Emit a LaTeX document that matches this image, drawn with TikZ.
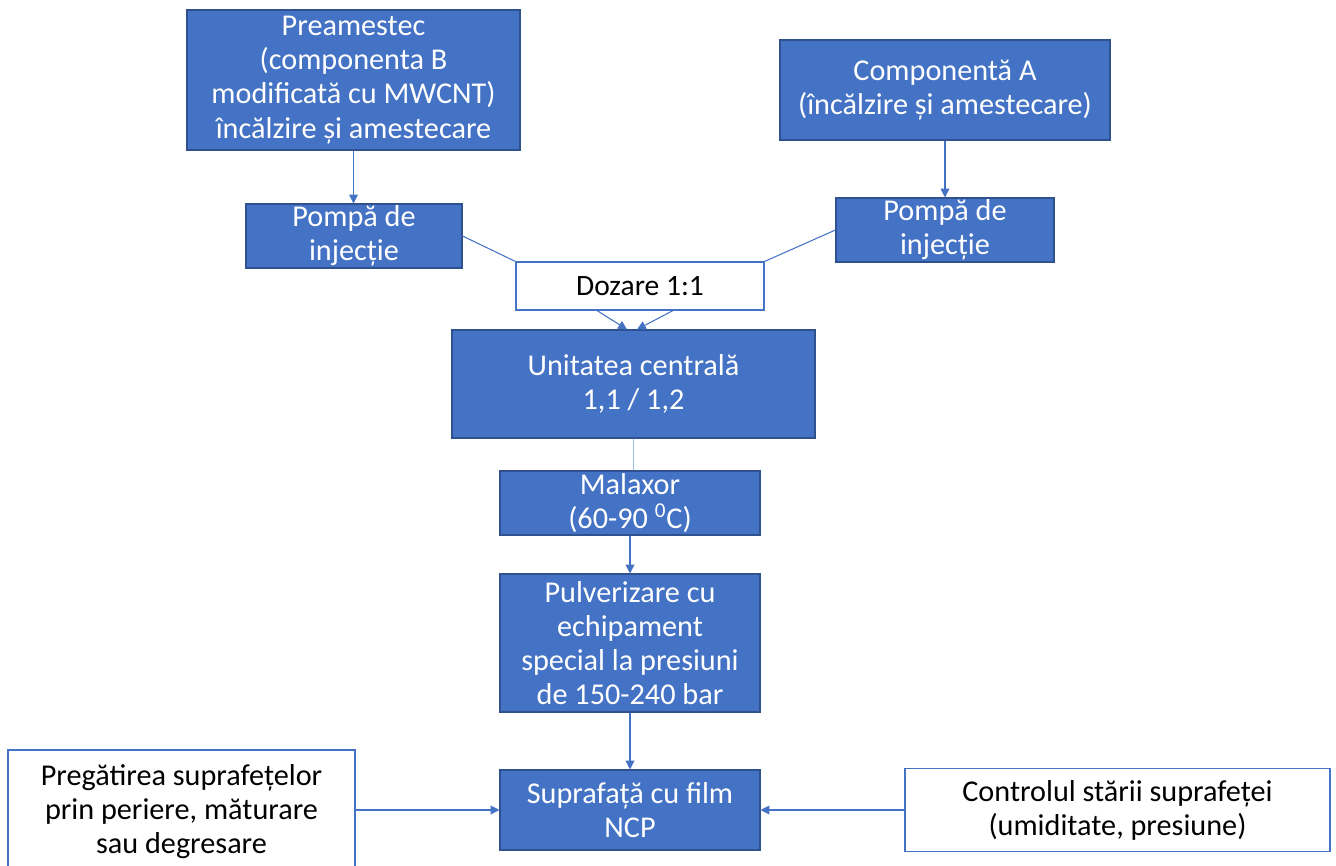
\documentclass[tikz,border=0pt]{standalone}
\usepackage{fontspec}
\setmainfont{Carlito}
\usetikzlibrary{arrows.meta}
\definecolor{boxblue}{HTML}{4472C4}
\definecolor{edgeblue}{HTML}{2F528F}
\definecolor{paleblue}{HTML}{9DC3E6}

\begin{document}
\begin{tikzpicture}[
    bluebox/.style={draw=edgeblue, fill=boxblue, text=white, line width=0.6pt, align=center,
      inner sep=0pt, font=\fontsize{17.2}{19.4}\selectfont},
    whitebox/.style={draw=boxblue, fill=white, text=black, line width=0.6pt, align=center,
      inner sep=0pt, font=\fontsize{17.2}{19.4}\selectfont},
    link/.style={draw=boxblue, line width=0.6pt},
    arr/.style={link, -{Triangle[width=5pt,length=5pt]}}
  ]
        \useasboundingbox (0,0) rectangle (26.72,-17.32);
        % upper row
        \node[bluebox, minimum width=6.66cm, minimum height=2.8cm] (pre) at (7.07,-1.6)
          {Preamestec\\(componenta B\\modificată cu MWCNT)\\încălzire și amestecare};
        \node[bluebox, minimum width=6.6cm, minimum height=2cm] (compA) at (18.9,-1.8)
          {Componentă A\\(încălzire și amestecare)};
        \node[bluebox, minimum width=4.32cm, minimum height=1.28cm] (pompL) at (7.08,-4.72)
          {Pompă de\\injecție};
        \node[bluebox, minimum width=4.36cm, minimum height=1.28cm] (pompR) at (18.9,-4.6)
          {Pompă de\\injecție};
        \node[whitebox, minimum width=4.96cm, minimum height=0.96cm,
          font=\fontsize{16.8}{19.4}\selectfont] (doz) at (12.8,-5.72)
          {Dozare 1:1};
        % middle column
        \node[bluebox, minimum width=7.26cm, minimum height=2.16cm] (unit) at (12.67,-7.68)
          {Unitatea centrală\\1,1 / 1,2};
        \node[bluebox, minimum width=5.2cm, minimum height=1.28cm] (mal) at (12.6,-10.06)
          {Malaxor\\(60-90 \textsuperscript{0}C)};
        \node[bluebox, minimum width=5.2cm, minimum height=2.76cm] (pulv) at (12.6,-12.86)
          {Pulverizare cu\\echipament\\special la presiuni\\de 150-240 bar};
        \node[bluebox, minimum width=5.2cm, minimum height=1.6cm] (supr) at (12.6,-16.2)
          {Suprafață cu film\\NCP};
        % bottom row
        \node[whitebox, minimum width=6.94cm, minimum height=2.48cm] (preg) at (3.63,-16.24)
          {Pregătirea suprafețelor\\prin periere, măturare\\sau degresare};
        \node[whitebox, minimum width=8.5cm, minimum height=1.66cm] (ctrl) at (22.35,-16.2)
          {Controlul stării suprafeței\\(umiditate, presiune)};
        % connectors
        \draw[arr] (pre.south) -- (pre.south |- pompL.north);
        \draw[arr] (compA.south) -- (compA.south |- pompR.north);
        \draw[link] (pompL.east) -- (doz.north west);
        \draw[link] (pompR.west) -- (doz.north east);
        \draw[arr] ([xshift=-0.86cm]doz.south) -- ([xshift=-0.13cm]unit.north);
        \draw[arr] ([xshift=0.66cm]doz.south) -- ([xshift=0.07cm]unit.north);
        \draw[draw=paleblue, line width=0.6pt] (unit.south) -- (unit.south |- mal.north);
        \draw[arr] (mal.south) -- (pulv.north);
        \draw[arr] (pulv.south) -- (supr.north);
        \draw[arr] (preg.east |- supr.west) -- (supr.west);
        \draw[arr] (ctrl.west) -- (supr.east);
      \end{tikzpicture}
\end{document}
